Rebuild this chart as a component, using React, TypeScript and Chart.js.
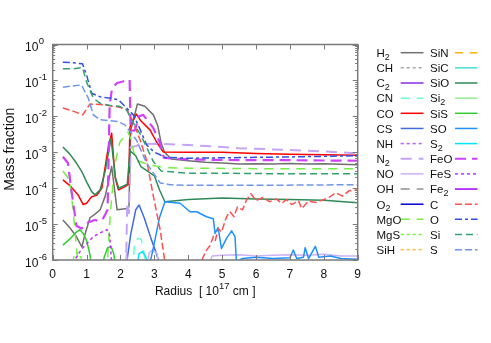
import { useEffect, useRef } from 'react';
import { Chart, registerables } from 'chart.js';
Chart.register(...registerables);

// ---------- axis / text content ----------
const X_TICKS = [0, 1, 2, 3, 4, 5, 6, 7, 8, 9];
const Y_EXPONENTS = [0, -1, -2, -3, -4, -5, -6];
const X_TITLE = ['Radius  [ 10', '17', ' cm ]'];
const Y_TITLE = 'Mass fraction';

const SPECIES = ['H2', 'CH', 'C2', 'CN', 'CO', 'CS', 'NH', 'N2', 'NO', 'OH', 'O2', 'MgO', 'MgS', 'SiH',
  'SiN', 'SiC', 'SiO', 'Si2', 'SiS', 'SO', 'S2', 'FeO', 'FeS', 'Fe2', 'C', 'O', 'Si', 'S'];

// ---------- data: [radius (1e17 cm), mass fraction] ----------
const d_H2 = [[0.3, 1.3e-5], [0.5, 8e-6], [0.7, 4.5e-6], [0.86, 2.3e-6], [0.96, 5.5e-6], [1.1, 1.5e-5], [1.25, 1.9e-5], [1.4, 2.5e-5], [1.55, 6e-5], [1.74, 4e-4], [1.9, 2.5e-5], [2.2, 2.7e-5], [2.25, 3e-5], [2.3, 4e-3], [2.5, 2.2e-2], [2.72, 1.9e-2], [2.97, 1.1e-2], [3.1, 5.5e-3], [3.2, 1.8e-3], [3.3, 1e-3], [3.5, 6.5e-4], [4, 5.8e-4], [4.5, 5.3e-4], [5, 5e-4], [5.5, 4.7e-4], [6, 4.8e-4], [6.5, 4.7e-4], [7, 4.9e-4], [7.5, 4.7e-4], [8, 4.8e-4], [8.5, 4.6e-4], [9, 4.5e-4]];
const d_CH = [[0.3, 1e-8], [9, 1e-8]];
const d_C2 = [[0.3, 1e-8], [9, 1e-8]];
const d_CN = [[2.36, 5e-7], [2.42, 3.2e-6], [2.52, 4e-6], [2.61, 3.8e-6], [2.7, 1.5e-6], [2.76, 5e-7]];
const d_CO = [[0.3, 1.7e-4], [0.5, 1.2e-4], [0.75, 6.5e-5], [0.9, 3.5e-5], [1.0, 3.8e-5], [1.15, 5.8e-5], [1.3, 6.3e-5], [1.45, 1e-4], [1.64, 1.4e-3], [1.74, 3.4e-3], [1.84, 2e-4], [1.94, 9e-5], [2.13, 1.1e-4], [2.24, 1.3e-4], [2.28, 5e-3], [2.33, 6.5e-3], [2.47, 1.15e-2], [2.6, 7.5e-3], [2.87, 4.2e-3], [3.07, 1.9e-3], [3.26, 1.02e-3], [4, 1.0e-3], [5, 1.0e-3], [6, 9.2e-4], [7, 8.8e-4], [8, 8.5e-4], [9, 8.3e-4]];
const d_CS = [[2.18, 8e-7], [2.3, 5e-6], [2.45, 2.5e-5], [2.55, 3.4e-5], [2.7, 1.5e-5], [2.9, 4e-6], [3.05, 1.6e-6], [3.17, 7e-7]];
const d_NH = [[0.3, 1e-8], [9, 1e-8]];
const d_N2 = [[2.16, 5e-7], [2.2, 4e-5], [2.25, 2e-5], [2.3, 1.4e-3], [2.48, 1.5e-3], [2.58, 1.75e-3], [3.2, 1.7e-3], [4, 1.6e-3], [5, 1.4e-3], [5.5, 1.3e-3], [6, 1.25e-3], [7, 1.15e-3], [8, 1.05e-3], [9, 9.3e-4]];
const d_NO = [[2.12, 5e-7], [2.18, 1.5e-6], [2.22, 5e-7], [2.75, 5e-7], [2.85, 1.6e-6], [2.95, 1.9e-6], [3.08, 1.5e-6], [3.16, 5e-7], [4.6, 5e-7], [4.7, 1.3e-6], [5, 1.35e-6], [5.5, 1.4e-6], [6, 1.3e-6], [6.5, 1.35e-6], [7, 1.4e-6], [7.5, 1.35e-6], [8, 1.45e-6], [8.5, 1.3e-6], [9, 1.3e-6]];
const d_OH = [[0.3, 1e-8], [9, 1e-8]];
const d_O2 = [[0.3, 1e-8], [9, 1e-8]];
const d_MgO = [[0.3, 3e-4], [0.5, 1.7e-4], [0.6, 2.5e-5], [0.7, 2.3e-6], [0.78, 5e-7], [1.6, 5e-7], [1.7, 2e-5], [1.83, 4.4e-4], [1.98, 1.9e-3], [2.22, 3.7e-3], [2.28, 2.7e-3], [2.45, 6e-4], [2.7, 5e-4], [3.0, 4.2e-4], [3.3, 3.7e-4], [4, 3.6e-4], [6, 3.5e-4], [9, 3.5e-4]];
const d_MgS = [[0.55, 5e-7], [0.62, 1.2e-6], [0.72, 1.6e-6], [0.85, 1.1e-6], [0.92, 5e-7]];
const d_SiH = [[0.3, 1e-8], [9, 1e-8]];
const d_SiN = [[0.3, 1e-8], [9, 1e-8]];
const d_SiC = [[0.3, 1e-8], [9, 1e-8]];
const d_SiO = [[0.3, 1.4e-3], [0.5, 9e-4], [0.7, 5e-4], [0.85, 3e-4], [1.0, 1.5e-4], [1.15, 8e-5], [1.25, 6.5e-5], [1.4, 9e-5], [1.55, 3e-4], [1.72, 2.4e-3], [1.85, 2e-4], [1.95, 1e-4], [2.2, 1.3e-4], [2.28, 1.1e-3], [2.45, 8e-4], [2.6, 4e-4], [2.8, 3e-4], [3.0, 2.2e-4], [3.15, 9e-5], [3.31, 4.2e-5], [4, 4.8e-5], [5, 5.3e-5], [6, 5e-5], [7, 4.8e-5], [8, 4.6e-5], [9, 3.9e-5]];
const d_Si2 = [[0.3, 1e-8], [9, 1e-8]];
const d_SiS = [[0.3, 2.6e-6], [0.5, 3.8e-6], [0.7, 6e-6], [0.8, 7e-6], [0.9, 5.5e-6], [1.0, 3.5e-6], [1.1, 1.4e-6], [1.16, 5e-7], [1.45, 5e-7], [1.52, 1.2e-6], [1.62, 2.2e-6], [1.72, 2.4e-6], [1.8, 1.5e-6], [1.88, 5e-7]];
const d_SO = [[2.87, 8e-7], [3.0, 3e-6], [3.15, 1.5e-5], [3.31, 4.2e-5], [3.76, 3.8e-5], [4.05, 2.2e-5], [4.25, 2.2e-5], [4.54, 1.6e-5], [4.74, 1.4e-5], [4.79, 5.5e-6], [4.88, 8e-6], [4.98, 2.1e-6], [5.13, 4e-6], [5.28, 6.5e-6], [5.38, 4.5e-6], [5.42, 9e-7], [5.6, 1.1e-6], [6, 1.2e-6], [6.5, 1.1e-6], [7.0, 1.15e-6], [7.1, 1.9e-6], [7.2, 1.1e-6], [7.4, 1.2e-6], [7.45, 2.2e-6], [7.55, 1.1e-6], [7.75, 2.4e-6], [7.85, 1.2e-6], [8.2, 1.3e-6], [8.5, 1.1e-6], [9, 1.05e-6]];
const d_S2 = [[2.45, 5e-7], [2.55, 1.5e-6], [2.65, 1.7e-6], [2.75, 1.2e-6], [2.8, 5e-7]];
const d_FeO = [[0.3, 7.5e-4], [0.45, 5e-4], [0.55, 9e-5], [0.7, 9e-6], [0.85, 7.5e-6], [1.04, 1.1e-5], [1.24, 1.3e-5], [1.4, 1.2e-5], [1.5, 1.5e-5], [1.62, 2.5e-5], [1.68, 2e-2], [1.75, 6e-2], [1.9, 8.5e-2], [2.1, 9.5e-2], [2.27, 1.05e-1], [2.3, 4e-3], [2.42, 4e-3], [2.55, 1e-2], [2.67, 1.1e-2], [2.97, 4.7e-3], [3.15, 2e-3], [3.28, 7e-4], [4, 6.3e-4], [5, 6.1e-4], [6, 6e-4], [7, 6e-4], [8, 5.9e-4], [9, 5.8e-4]];
const d_FeS = [[0.58, 8e-7], [0.7, 1.2e-6], [0.85, 2e-6], [1.0, 2.8e-6], [1.2, 4.5e-6], [1.45, 6e-6], [1.6, 7e-6], [1.68, 5e-6], [1.74, 8e-7]];
const d_Fe2 = [[0.3, 1e-8], [9, 1e-8]];
const d_C = [[0.3, 1.7e-2], [0.6, 1.4e-2], [0.89, 1.1e-2], [1.1, 2.2e-2], [1.5, 2.1e-2], [1.97, 1.8e-2], [2.2, 1.5e-2], [2.37, 7e-3], [2.58, 2.2e-3], [2.77, 6e-4], [2.97, 6e-5], [3.17, 7e-6], [3.31, 9e-7], [3.4, 1e-7], [4.3, 1e-7], [4.4, 1e-6], [4.54, 1.9e-6], [4.64, 2.5e-6], [4.74, 4.5e-6], [4.8, 3.5e-6], [4.88, 7.5e-6], [4.98, 6e-6], [5.13, 1.6e-5], [5.23, 2.2e-5], [5.35, 1.6e-5], [5.45, 3e-5], [5.6, 2.5e-5], [5.72, 4.7e-5], [5.85, 7e-5], [6.0, 4.5e-5], [6.2, 5.5e-5], [6.4, 4.2e-5], [6.6, 5e-5], [6.75, 3.8e-5], [6.9, 4.8e-5], [7.05, 3.5e-5], [7.25, 4.5e-5], [7.35, 2.7e-5], [7.55, 4.4e-5], [7.75, 4e-5], [7.95, 4.6e-5], [8.15, 5.5e-5], [8.35, 7.5e-5], [8.55, 6e-5], [8.75, 8.5e-5], [9, 9e-5]];
const d_O = [[0.3, 3.2e-1], [0.6, 3.1e-1], [0.88, 2.9e-1], [1.0, 1.4e-1], [1.15, 4.4e-2], [1.4, 3.5e-2], [1.7, 3.2e-2], [1.94, 2.9e-2], [2.18, 1.7e-2], [2.38, 1.1e-2], [2.55, 5e-3], [2.77, 1.6e-3], [3.0, 1e-3], [3.17, 8.5e-4], [3.3, 7.2e-4], [4, 6.8e-4], [5, 7e-4], [6, 7.2e-4], [7, 7.4e-4], [8, 7.7e-4], [9, 8e-4]];
const d_Si = [[0.3, 2.1e-1], [0.6, 2.1e-1], [0.88, 2.3e-1], [1.0, 9e-2], [1.2, 3.2e-2], [1.4, 2.3e-2], [1.7, 2e-2], [1.97, 1.9e-2], [2.18, 1.5e-2], [2.38, 6.5e-3], [2.6, 3e-3], [2.8, 1.2e-3], [2.97, 5.5e-4], [3.2, 3e-4], [4, 2.6e-4], [5, 2.6e-4], [6, 2.55e-4], [7, 2.5e-4], [8, 2.5e-4], [9, 2.5e-4]];
const d_S = [[0.3, 6.5e-2], [0.6, 7e-2], [0.85, 7.5e-2], [1.05, 3.2e-2], [1.2, 1.1e-2], [1.4, 8e-3], [1.92, 7.2e-3], [2.13, 5.8e-3], [2.47, 2.2e-3], [2.77, 5e-4], [3.17, 1.4e-4], [3.46, 1.25e-4], [4, 1.2e-4], [6, 1.2e-4], [9, 1.25e-4]];

const DATA = [d_H2, d_CH, d_C2, d_CN, d_CO, d_CS, d_NH, d_N2, d_NO, d_OH, d_O2, d_MgO, d_MgS, d_SiH,
  d_SiN, d_SiC, d_SiO, d_Si2, d_SiS, d_SO, d_S2, d_FeO, d_FeS, d_Fe2, d_C, d_O, d_Si, d_S];

// ---------- styles ----------
const COLORS = ['#707070', '#a8a8a8', '#8a2be2', '#66ffcc', '#ff0000', '#4169e1', '#b060ff', '#c4a4f4', '#ccb0f8', '#909090', '#0000cd', '#77ee44', '#66ff33', '#ffbb33',
  '#ffb400', '#40e0d0', '#2e8b57', '#90ee90', '#32cd32', '#1e90ff', '#00e5ff', '#d040ff', '#c030ff', '#a800ff', '#ff5050', '#3050e0', '#33a070', '#7095ea'];
const DASHES = [[], [3, 3], [], [9, 7], [], [], [3, 3], [11, 7], [], [9, 7], [], [9, 7], [3, 3], [3, 3],
  [8, 7], [], [], [], [], [], [], [11, 6], [3, 3], [], [7, 3], [7, 3, 3, 3], [7, 4], [7, 3]];
const WIDTHS = [1.5, 1.5, 1.5, 1.5, 1.5, 1.5, 1.5, 2, 1.5, 1.5, 1.5, 1.5, 1.5, 1.5,
  1.5, 1.5, 1.5, 1.5, 1.5, 1.5, 1.5, 2.2, 1.5, 1.5, 1.5, 1.5, 1.5, 1.5];

const FONT = '"Liberation Sans", Arial, sans-serif';

function drawSpeciesLabel(ctx: CanvasRenderingContext2D, text: string, x: number, y: number) {
  const parts = text.match(/[A-Za-z]+|\d+/g) || [];
  let cx = x;
  for (const p of parts) {
    if (/\d/.test(p)) {
      ctx.font = `9px ${FONT}`;
      ctx.fillText(p, cx, y + 2.6);
    } else {
      ctx.font = `11.5px ${FONT}`;
      ctx.fillText(p, cx, y);
    }
    cx += ctx.measureText(p).width;
  }
}

const decor = {
  id: 'decor',
  afterDraw(chart: any) {
    const { ctx, chartArea: a, scales } = chart;
    const xs = scales.x, ys = scales.y;
    ctx.save();
    ctx.strokeStyle = '#7a7a7a';
    ctx.lineWidth = 1;
    ctx.setLineDash([]);
    // ticks
    ctx.beginPath();
    for (const t of X_TICKS) {
      const px = Math.round(xs.getPixelForValue(t)) + 0.5;
      ctx.moveTo(px, a.bottom); ctx.lineTo(px, a.bottom - 5);
      ctx.moveTo(px, a.top); ctx.lineTo(px, a.top + 5);
    }
    for (const e of Y_EXPONENTS) {
      const py = Math.round(ys.getPixelForValue(Math.pow(10, e))) + 0.5;
      ctx.moveTo(a.left, py); ctx.lineTo(a.left + 5, py);
      ctx.moveTo(a.right, py); ctx.lineTo(a.right - 5, py);
      if (e < 0) {
        for (let k = 2; k <= 9; k++) {
          const pm = Math.round(ys.getPixelForValue(k * Math.pow(10, e))) + 0.5;
          ctx.moveTo(a.left, pm); ctx.lineTo(a.left + 2.5, pm);
          ctx.moveTo(a.right, pm); ctx.lineTo(a.right - 2.5, pm);
        }
      }
    }
    ctx.stroke();
    // border
    ctx.lineWidth = 1.5;
    ctx.strokeRect(a.left, a.top, a.right - a.left, a.bottom - a.top);

    // tick labels
    ctx.fillStyle = '#111';
    ctx.textBaseline = 'middle';
    ctx.textAlign = 'center';
    ctx.font = `12px ${FONT}`;
    for (const t of X_TICKS) {
      ctx.fillText(String(t), xs.getPixelForValue(t), a.bottom + 14.5);
    }
    ctx.textAlign = 'left';
    for (const e of Y_EXPONENTS) {
      const py = ys.getPixelForValue(Math.pow(10, e));
      ctx.font = `12px ${FONT}`;
      ctx.fillText('10', 25, py + 3.5);
      const w = ctx.measureText('10').width;
      ctx.font = `9.5px ${FONT}`;
      ctx.fillText(String(e), 25 + w + 0.3, py - 3);
    }

    // axis titles
    ctx.font = `12px ${FONT}`;
    const w0 = ctx.measureText(X_TITLE[0]).width;
    const w2 = ctx.measureText(X_TITLE[2]).width;
    ctx.font = `9.5px ${FONT}`;
    const w1 = ctx.measureText(X_TITLE[1]).width;
    const cxm = (a.left + a.right) / 2;
    let sx = cxm - (w0 + w1 + w2) / 2;
    const ty = a.bottom + 32;
    ctx.font = `12px ${FONT}`;
    ctx.fillText(X_TITLE[0], sx, ty); sx += w0;
    ctx.font = `9.5px ${FONT}`;
    ctx.fillText(X_TITLE[1], sx, ty - 6); sx += w1;
    ctx.font = `12px ${FONT}`;
    ctx.fillText(X_TITLE[2], sx, ty);

    ctx.save();
    ctx.translate(10.5, (a.top + a.bottom) / 2 - 3);
    ctx.rotate(-Math.PI / 2);
    ctx.textAlign = 'center';
    ctx.font = `14px ${FONT}`;
    ctx.fillText(Y_TITLE, 0, 0);
    ctx.restore();

    // legend (two columns)
    ctx.textBaseline = 'alphabetic';
    ctx.textAlign = 'left';
    const rows = 14;
    chart.data.datasets.forEach((ds: any, i: number) => {
      const col = Math.floor(i / rows);
      const row = i % rows;
      const ry = 52.7 + row * 15.15;
      const tx = col === 0 ? 376.5 : 430;
      const lx0 = col === 0 ? 400.7 : 455;
      const lx1 = col === 0 ? 423.5 : 477.5;
      ctx.fillStyle = '#111';
      drawSpeciesLabel(ctx, ds.label, tx, ry + 4.3);
      ctx.strokeStyle = ds.borderColor;
      ctx.lineWidth = ds.borderWidth;
      ctx.setLineDash(ds.borderDash || []);
      ctx.beginPath();
      ctx.moveTo(lx0, ry); ctx.lineTo(lx1, ry);
      ctx.stroke();
    });
    ctx.restore();
  },
};

export default function App() {
  const ref = useRef<HTMLCanvasElement>(null);
  useEffect(() => {
    document.body.style.margin = '0';
    const chart = new Chart(ref.current as HTMLCanvasElement, {
      type: 'line',
      data: {
        datasets: SPECIES.map((name, i) => ({
          label: name,
          data: DATA[i].map(([x, y]) => ({ x, y })),
          borderColor: COLORS[i],
          borderDash: DASHES[i],
          borderWidth: WIDTHS[i],
          borderJoinStyle: 'round',
          pointRadius: 0,
          pointHoverRadius: 0,
          fill: false,
          tension: 0,
          order: -i,
          clip: 0,
        })) as any,
      },
      options: {
        responsive: false,
        animation: false,
        devicePixelRatio: 1,
        layout: { padding: { left: 52.7, top: 44.5, right: 133.3, bottom: 83 } },
        scales: {
          x: { type: 'linear', min: 0, max: 9, display: false },
          y: { type: 'logarithmic', min: 1e-6, max: 1, display: false },
        },
        plugins: { legend: { display: false }, tooltip: { enabled: false } },
        events: [],
      },
      plugins: [decor],
    });
    return () => chart.destroy();
  }, []);
  return <canvas ref={ref} width={491} height={343} style={{ display: 'block' }} />;
}
